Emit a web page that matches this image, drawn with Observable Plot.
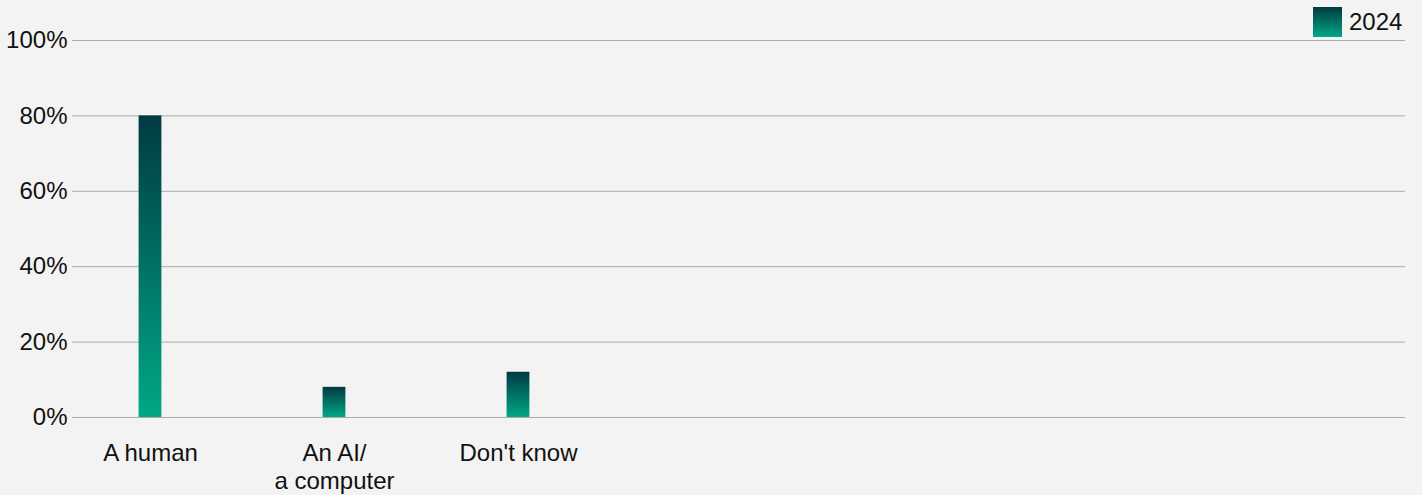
<!DOCTYPE html>
<html>
<head>
<meta charset="utf-8">
<script src="https://cdn.jsdelivr.net/npm/d3@7"></script>
<script src="https://cdn.jsdelivr.net/npm/@observablehq/plot@0.6"></script>
<style>
  html, body { margin: 0; padding: 0; background: #f3f3f3; }
  #wrap { position: relative; width: 1422px; height: 495px; overflow: hidden; }
  #legend { position: absolute; left: 1313px; top: 7px; display: flex; align-items: center;
    font-family: "Liberation Sans", Arial, sans-serif; font-size: 24px; color: #111; }
  #legend .sw { width: 29px; height: 30px; background: linear-gradient(to bottom, #003a40, #00a886); margin-right: 7px; }
</style>
</head>
<body>
<div id="wrap"><div id="legend"><div class="sw"></div><span id="legtxt"></span></div></div>
<script>
const categories = ["A human", "An AI/\na computer", "Don't know"];
const values2024 = [80, 8, 12];
const yTicks = [0, 20, 40, 60, 80, 100];
const seriesName = "2024";
const gradTop = "#003a40";
const gradBottom = "#00a886";

const data = categories.map((c, i) => ({category: c, value: values2024[i]}));

const defs = () => {
  const svg = d3.create("svg:defs");
  const g = svg.append("linearGradient").attr("id", "grad2024")
    .attr("x1", 0).attr("y1", 0).attr("x2", 0).attr("y2", 1);
  g.append("stop").attr("offset", "0%").attr("stop-color", gradTop);
  g.append("stop").attr("offset", "100%").attr("stop-color", gradBottom);
  return svg.node();
};

const chart = Plot.plot({
  width: 1422,
  height: 495,
  marginTop: 40,
  marginLeft: 72,
  marginRight: 17,
  marginBottom: 78,
  style: {background: "#f3f3f3", fontFamily: "'Liberation Sans', Arial, sans-serif", fontSize: "24px", color: "#111"},
  x: {domain: categories, range: [57.35, 610.25], padding: 0, label: null},
  y: {domain: [0, 100], label: null},
  marks: [
    defs,
    Plot.ruleY(yTicks, {stroke: "#aaaaaa", strokeWidth: 1}),
    Plot.barY(data, {x: "category", y: "value", fill: "url(#grad2024)", insetLeft: 80.6, insetRight: 80.6}),
    Plot.axisX({tickSize: 0, tickPadding: 24, fontSize: 24, lineHeight: 1.16}),
    Plot.axisY({ticks: yTicks, tickFormat: d => d + "%", tickSize: 0, tickPadding: 5, fontSize: 24})
  ]
});
document.getElementById("wrap").prepend(chart);
document.getElementById("legtxt").textContent = seriesName;
</script>
</body>
</html>
